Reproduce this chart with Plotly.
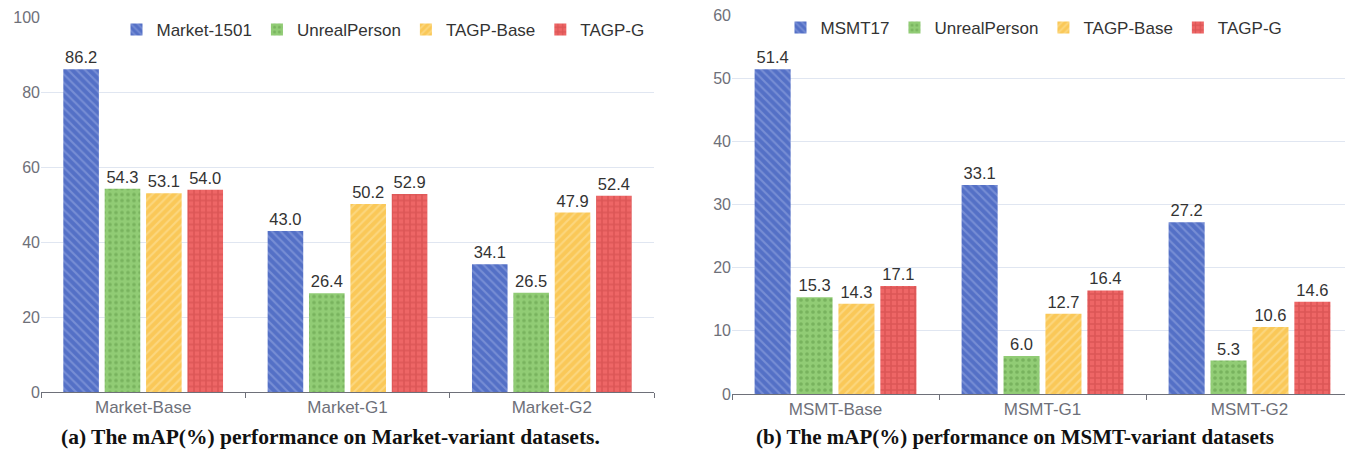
import plotly.graph_objects as go

# ---- data ----
market_cats = ["Market-Base", "Market-G1", "Market-G2"]
msmt_cats = ["MSMT-Base", "MSMT-G1", "MSMT-G2"]

market_1501 = [86.2, 43.0, 34.1]
market_unreal = [54.3, 26.4, 26.5]
market_tagp_base = [53.1, 50.2, 47.9]
market_tagp_g = [54.0, 52.9, 52.4]

msmt17 = [51.4, 33.1, 27.2]
msmt_unreal = [15.3, 6.0, 5.3]
msmt_tagp_base = [14.3, 12.7, 10.6]
msmt_tagp_g = [17.1, 16.4, 14.6]

left_names = ["Market-1501", "UnrealPerson", "TAGP-Base", "TAGP-G"]
right_names = ["MSMT17", "UnrealPerson", "TAGP-Base", "TAGP-G"]

captions = ["(a) The mAP(%) performance on Market-variant datasets.",
            "(b) The mAP(%) performance on MSMT-variant datasets"]

# ---- styles ----
colors = ["#5470c6", "#91cc75", "#fac858", "#ee6666"]
pat_shapes = ["\\", ".", "/", "+"]
pat_fg = ["#9aabe3", "#5f9a48", "#fde6a6", "#c94545"]
pat_sol = [0.35, 0.3, 0.35, 0.45]

FONT = "Liberation Sans, Arial, sans-serif"
SERIF = "Liberation Serif, DejaVu Serif, serif"

W, H = 1353, 457
OFF = 8  # page body margin offset


def fx(s):
    return (s - OFF) / W


def fy(s):
    return 1 - (s - OFF) / H


fig = go.Figure()

left_series = [market_1501, market_unreal, market_tagp_base, market_tagp_g]
right_series = [msmt17, msmt_unreal, msmt_tagp_base, msmt_tagp_g]


def add_group(cats, names, series, xa, ya, leg):
    for i, (name, vals) in enumerate(zip(names, series)):
        fig.add_trace(go.Bar(
            x=cats, y=vals, name=name, xaxis=xa, yaxis=ya,
            marker=dict(color=colors[i], line=dict(width=0),
                        pattern=dict(shape=pat_shapes[i], fgcolor=pat_fg[i], bgcolor=colors[i],
                                     size=6, solidity=pat_sol[i], fillmode="overlay")),
            texttemplate="%{y:.1f}", textposition="outside", cliponaxis=False,
            textfont=dict(family=FONT, size=16.5, color="#333333"),
            legend=leg,
        ))


add_group(market_cats, left_names, left_series, "x", "y", "legend")
add_group(msmt_cats, right_names, right_series, "x2", "y2", "legend2")

axis_common_x = dict(
    showgrid=False, showline=True, linecolor="#6e7079", linewidth=1,
    ticks="outside", ticklen=5, tickcolor="#6e7079", tickson="boundaries",
    tickfont=dict(family=FONT, size=17, color="#6e7079"), zeroline=False,
    automargin=False,
)
axis_common_y = dict(
    showgrid=True, gridcolor="#e0e6f1", gridwidth=1, showline=False, zeroline=False,
    tickfont=dict(family=FONT, size=16, color="#6e7079"), ticks="", automargin=False,
    ticklabeloverflow="allow",
)

fig.update_layout(
    width=W, height=H,
    margin=dict(l=0, r=0, t=0, b=0, autoexpand=False),
    paper_bgcolor="white", plot_bgcolor="white",
    barmode="group", bargap=0.19, bargroupgap=0.14,
    font=dict(family=FONT),
    xaxis=dict(domain=[fx(41), fx(654)], anchor="y", **axis_common_x),
    yaxis=dict(domain=[fy(392), fy(17.5)], range=[0, 100], dtick=20, anchor="x", **axis_common_y),
    xaxis2=dict(domain=[fx(732), fx(1353)], anchor="y2", **axis_common_x),
    yaxis2=dict(domain=[fy(394), fy(15)], range=[0, 60], dtick=10, anchor="x2", **axis_common_y),
    legend=dict(orientation="h", x=fx(383), y=fy(30), xanchor="center", yanchor="middle",
                font=dict(family=FONT, size=17, color="#333333"), bgcolor="rgba(0,0,0,0)",
                itemwidth=30, tracegroupgap=0),
    legend2=dict(orientation="h", x=fx(1034), y=fy(28), xanchor="center", yanchor="middle",
                 font=dict(family=FONT, size=17, color="#333333"), bgcolor="rgba(0,0,0,0)",
                 itemwidth=30, tracegroupgap=0),
    annotations=[
        dict(text="<b>" + captions[0] + "</b>", x=fx(330), y=fy(437), xref="paper", yref="paper",
             showarrow=False, xanchor="center", yanchor="middle",
             font=dict(family=SERIF, size=21.5, color="#111111")),
        dict(text="<b>" + captions[1] + "</b>", x=fx(1015), y=fy(437), xref="paper", yref="paper",
             showarrow=False, xanchor="center", yanchor="middle",
             font=dict(family=SERIF, size=21, color="#111111")),
    ],
)

fig.write_html("out.html")
